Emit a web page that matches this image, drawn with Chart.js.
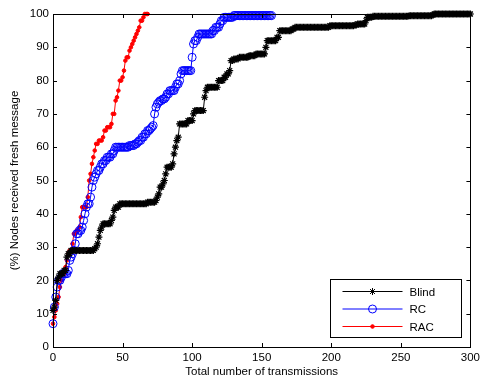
<!DOCTYPE html>
<html>
<head>
<meta charset="utf-8">
<script src="https://cdn.jsdelivr.net/npm/chart.js@4/dist/chart.umd.min.js"></script>
<style>
  html, body { margin: 0; padding: 0; background: #fff; }
  #wrap { width: 484px; height: 379px; }
</style>
</head>
<body>
<div id="wrap"><canvas id="chart" width="484" height="379"></canvas></div>
<script>
// values, one per transmission (x = index)
const blindY = [
  11, 12, 14, 20, 21, 22, 22, 22, 23, 23,
  27, 28, 28, 29, 29, 29, 29, 29, 29, 29,
  29, 29, 29, 29, 29, 29, 29, 29, 29, 29,
  29.5, 30, 31, 33, 35, 36, 37, 37, 37, 37,
  37, 37, 38, 39, 41, 42, 42, 42, 43, 43,
  43, 43, 43, 43, 43, 43, 43, 43, 43, 43,
  43, 43, 43, 43, 43, 43, 43, 43, 43.5, 43.5,
  43.5, 43.5, 43.5, 43.5, 44, 45, 46, 48, 48, 49,
  50, 52, 54, 54, 54, 54, 55, 58, 60, 62,
  63, 67, 67, 67, 67, 67, 67, 68, 68, 68,
  68, 70, 71, 71, 71, 71, 71, 71, 71, 75,
  77, 78, 78, 78, 78, 78, 78, 78, 78, 80,
  80, 80, 80, 81, 81, 82, 82, 83, 86, 86,
  86.5, 86.5, 86.5, 86.5, 87, 87, 87, 87, 87, 87,
  87, 87.5, 87.5, 87.5, 87.5, 87.5, 88, 88, 88, 88,
  88, 88, 88, 90, 92, 92, 92, 92, 92, 92,
  92, 93, 93, 95, 95, 95, 95, 95, 95, 95,
  95, 95, 95.5, 95.5, 96, 96, 96, 96, 96, 96,
  96, 96, 96, 96, 96, 96, 96, 96, 96, 96,
  96, 96, 96, 96, 96, 96, 96, 96, 96, 96.5,
  96.5, 96.5, 96.5, 96.5, 96.5, 96.5, 96.5, 96.5, 96.5, 96.5,
  96.5, 96.5, 96.5, 96.5, 96.5, 96.5, 96.5, 96.7, 96.7, 97,
  97, 97, 97, 97, 97, 98, 99, 99, 99, 99,
  99.3, 99.3, 99.3, 99.3, 99.3, 99.3, 99.3, 99.3, 99.3, 99.3,
  99.3, 99.3, 99.3, 99.3, 99.3, 99.3, 99.3, 99.3, 99.3, 99.3,
  99.3, 99.3, 99.3, 99.3, 99.3, 99.3, 99.5, 99.5, 99.5, 99.5,
  99.5, 99.5, 99.5, 99.5, 99.5, 99.5, 99.5, 99.5, 99.5, 99.5,
  99.5, 99.5, 99.5, 99.7, 100, 100, 100, 100, 100, 100,
  100, 100, 100, 100, 100, 100, 100, 100, 100, 100,
  100, 100, 100, 100, 100, 100, 100, 100, 100, 100,
  100
]
const rcY = [
  7, 12, 15, 18, 20, 20, 21, 22, 22, 22,
  22, 23, 26, 27, 28, 29, 31, 34, 34, 35,
  35, 36, 38, 40, 42, 43, 43, 45, 48, 50,
  51, 52, 53, 53, 54, 55, 55, 56, 56, 57,
  57, 57, 58, 58, 59, 60, 60, 60, 60, 60,
  60, 60, 60, 60, 60, 60.5, 60.5, 60.5, 60.5, 61,
  61, 61.5, 62, 62, 63, 63, 64, 64, 65, 65,
  65.5, 66, 66.5, 70, 72, 73, 73.5, 74, 74, 74.5,
  74.5, 75, 76, 76, 77, 77, 77, 77, 78, 79,
  79, 80, 82, 83, 83, 83, 83, 83, 83, 83,
  87, 91, 92, 92, 93, 94, 94, 94, 94, 94,
  94, 94, 94, 94, 94, 95, 95, 96, 96, 96,
  97, 98, 98, 99, 99, 99, 99, 99, 99, 99,
  99.5, 99.5, 99.5, 99.5, 99.5, 99.5, 99.5, 99.5, 99.5, 99.5,
  99.5, 99.5, 99.5, 99.5, 99.5, 99.5, 99.5, 99.5, 99.5, 99.5,
  99.5, 99.5, 99.5, 99.5, 99.5, 99.5, 99.5, 99.5
]
const racY = [
  7, 9, 11, 13, 15, 18, 20, 22, 22, 24,
  26, 28, 29, 29, 31, 34, 34, 35, 35, 36,
  39, 42, 42, 42, 42, 45, 50, 52, 55, 57,
  59, 61, 61, 62, 62, 62, 63, 65, 65, 66,
  66, 66, 67, 70, 70, 74, 75, 77, 80, 80,
  81, 83, 86, 87, 87, 89, 90, 91, 92, 93,
  94, 95, 96, 98, 98, 99, 100, 100, 100
]
const seriesNames = ['Blind', 'RC', 'RAC']
const xTicks = [0, 50, 100, 150, 200, 250, 300]
const yTicks = [0, 10, 20, 30, 40, 50, 60, 70, 80, 90, 100]

const toPts = arr => arr.map((v, i) => ({ x: i, y: v }))
const font = { family: 'Liberation Sans, Arial, sans-serif', size: 11.5 }

// matlab style box, inward ticks on all sides
const boxPlugin = {
  id: 'box',
  afterDraw(chart) {
    const ctx = chart.ctx
    const a = chart.chartArea
    const sx = chart.scales.x, sy = chart.scales.y
    ctx.save()
    ctx.strokeStyle = '#000'
    ctx.lineWidth = 1
    ctx.strokeRect(Math.round(a.left) + 0.5, Math.round(a.top) + 0.5,
      Math.round(a.right - a.left), Math.round(a.bottom - a.top))
    ctx.beginPath()
    for (const t of xTicks) {
      const px = Math.round(sx.getPixelForValue(t)) + 0.5
      ctx.moveTo(px, a.bottom); ctx.lineTo(px, a.bottom - 4)
      ctx.moveTo(px, a.top); ctx.lineTo(px, a.top + 4)
    }
    for (const t of yTicks) {
      const py = Math.round(sy.getPixelForValue(t)) + 0.5
      ctx.moveTo(a.left, py); ctx.lineTo(a.left + 4, py)
      ctx.moveTo(a.right, py); ctx.lineTo(a.right - 4, py)
    }
    ctx.stroke()

    // legend box in lower right
    const w = 131, h = 58
    const lx = Math.round(a.right - 9 - w) + 0.5
    const ly = Math.round(a.bottom - 10 - h) + 0.5
    ctx.fillStyle = '#fff'
    ctx.fillRect(lx, ly, w, h)
    ctx.strokeRect(lx, ly, w, h)
    ctx.font = '11.5px Liberation Sans, Arial, sans-serif'
    ctx.textBaseline = 'middle'
    chart.data.datasets.forEach((ds, i) => {
      const yy = ly + 12 + i * 17.5
      ctx.strokeStyle = ds.borderColor
      ctx.lineWidth = 1
      ctx.beginPath()
      ctx.moveTo(lx + 12, yy); ctx.lineTo(lx + 72, yy)
      ctx.stroke()
      ctx.strokeStyle = ds.pointBorderColor
      ctx.fillStyle = ds.pointBackgroundColor
      Chart.helpers.drawPoint(ctx, {
        pointStyle: ds.pointStyle, radius: ds.pointRadius, borderWidth: 1
      }, lx + 42, yy)
      ctx.fillStyle = '#000'
      ctx.fillText(ds.label, lx + 79, yy + 1)
    })
    ctx.restore()
  }
}

new Chart('chart', {
  type: 'line',
  data: {
    datasets: [
      {
        label: seriesNames[0], data: toPts(blindY),
        borderColor: '#000', backgroundColor: '#000',
        pointBorderColor: '#000', pointBackgroundColor: '#000',
        borderWidth: 1, pointStyle: 'star', pointRadius: 3.5, pointBorderWidth: 1.2,
        clip: false
      },
      {
        label: seriesNames[1], data: toPts(rcY),
        borderColor: '#0000ff', backgroundColor: 'rgba(0,0,0,0)',
        pointBorderColor: '#0000ff', pointBackgroundColor: 'rgba(0,0,0,0)',
        borderWidth: 1, pointStyle: 'circle', pointRadius: 4, pointBorderWidth: 1,
        clip: false
      },
      {
        label: seriesNames[2], data: toPts(racY),
        borderColor: '#ff0000', backgroundColor: '#ff0000',
        pointBorderColor: '#ff0000', pointBackgroundColor: '#ff0000',
        borderWidth: 1, pointStyle: 'circle', pointRadius: 1.8, pointBorderWidth: 1,
        clip: false
      }
    ]
  },
  options: {
    responsive: false,
    animation: false,
    layout: { padding: { top: 14, right: 11, left: 0, bottom: 0 } },
    plugins: { legend: { display: false }, tooltip: { enabled: false } },
    elements: { line: { tension: 0 } },
    scales: {
      x: {
        type: 'linear', min: 0, max: 300,
        afterBuildTicks: s => { s.ticks = xTicks.map(v => ({ value: v })) },
        afterFit: s => { s.height = 32 },
        grid: { display: false, drawTicks: false },
        border: { display: false },
        ticks: { color: '#000', font: font, padding: 4, maxRotation: 0 },
        title: { display: true, text: 'Total number of transmissions', color: '#000', font: font, padding: { top: 1, bottom: 0 } }
      },
      y: {
        type: 'linear', min: 0, max: 100,
        afterBuildTicks: s => { s.ticks = yTicks.map(v => ({ value: v })) },
        afterFit: s => { s.width = 53 },
        grid: { display: false, drawTicks: false },
        border: { display: false },
        ticks: { color: '#000', font: font, padding: 4 },
        title: { display: true, text: '(%) Nodes received fresh message', color: '#000', font: font, padding: { top: 8, bottom: 4 } }
      }
    }
  },
  plugins: [boxPlugin]
})
</script>
</body>
</html>
